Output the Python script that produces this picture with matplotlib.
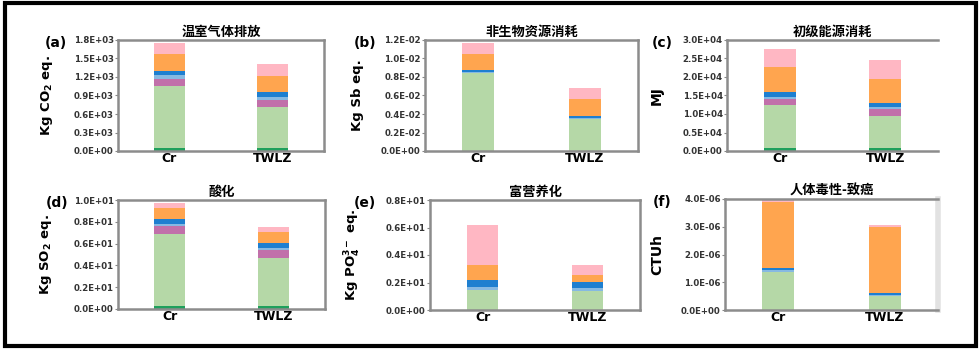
import matplotlib.pyplot as plt
from matplotlib.patches import Rectangle

plt.rcParams["font.family"] = ["Noto Sans CJK SC", "DejaVu Sans"]

# ==========================================================
# Data
# ==========================================================

SCENARIOS = ["Cr", "TWLZ"]

LAYER_COLORS = ["#1fa05c", "#b5d8a7", "#c170aa", "#86b9e2", "#1e7fd0", "#ffa54f", "#ffb7c3"]

TITLES = ["温室气体排放", "非生物资源消耗", "初级能源消耗", "酸化", "富营养化", "人体毒性-致癌"]
PANELS = ["(a)", "(b)", "(c)", "(d)", "(e)", "(f)"]
YLABELS = ["Kg CO$_\\mathbf{2}$ eq.", "Kg Sb eq.", "MJ", "Kg SO$_\\mathbf{2}$ eq.",
           "Kg PO$_\\mathbf{4}^{\\mathbf{3-}}$ eq.", "CTUh"]

# stacked segment heights, bottom to top, [Cr, TWLZ]
gwp = [[50, 50], [1005, 658], [110, 118], [65, 54], [70, 81], [265, 259], [180, 184]]
adp = [[0.00005, 0.00005], [0.00835, 0.00341], [0, 0], [0.00011, 0.00011],
       [0.00025, 0.00025], [0.00173, 0.0018], [0.00115, 0.00116]]
ped = [[900, 900], [11530, 8640], [1705, 1730], [460, 540], [1270, 1240], [6755, 6410], [4866, 5140]]
ap = [[0.30, 0.30], [6.56, 4.36], [0.76, 0.74], [0.21, 0.18], [0.46, 0.51], [1.01, 1.01], [0.45, 0.43]]
ep = [[0, 0], [1.45, 1.40], [0, 0], [0.24, 0.20], [0.49, 0.41], [1.08, 0.53], [2.90, 0.75]]
htc = [[0, 0], [1.38e-6, 0.52e-6], [0, 0], [0.05e-6, 0.03e-6], [0.08e-6, 0.06e-6],
       [2.39e-6, 2.37e-6], [0.06e-6, 0.08e-6]]

DATA = [gwp, adp, ped, ap, ep, htc]

YTICKS = [
    [0, 300, 600, 900, 1200, 1500, 1800],
    [0, 0.002, 0.004, 0.006, 0.008, 0.010, 0.012],
    [0, 5000, 10000, 15000, 20000, 25000, 30000],
    [0, 2, 4, 6, 8, 10],
    [0, 2, 4, 6, 8],
    [0, 1e-6, 2e-6, 3e-6, 4e-6],
]
YTICKLABELS = [
    ["0.0E+00", "0.3E+03", "0.6E+03", "0.9E+03", "1.2E+03", "1.5E+03", "1.8E+03"],
    ["0.0E+00", "0.2E-02", "0.4E-02", "0.6E-02", "0.8E-02", "1.0E-02", "1.2E-02"],
    ["0.0E+00", "0.5E+04", "1.0E+04", "1.5E+04", "2.0E+04", "2.5E+04", "3.0E+04"],
    ["0.0E+00", "0.2E+01", "0.4E+01", "0.6E+01", "0.8E+01", "1.0E+01"],
    ["0.0E+00", "0.2E+01", "0.4E+01", "0.6E+01", "0.8E+01"],
    ["0.0E+00", "1.0E-06", "2.0E-06", "3.0E-06", "4.0E-06"],
]

# ==========================================================
# Layout (pixel boxes: left, right, top, bottom)
# ==========================================================

W, H = 980, 352
BOXES = [(118, 324, 40, 151), (425, 638, 40, 151), (727, 938, 40, 151),
         (118, 325, 200, 309), (430, 640, 200, 310), (725, 938, 199, 310)]
LABEL_X = [55, 364, 664, 54, 363, 664]
LABEL_SIZE = [9.5, 9.5, 10, 9.5, 9.5, 10]
PANEL_X = [56, 365, 662, 57, 365, 662]

fig = plt.figure(figsize=(W / 100, H / 100), dpi=100)

for i, data in enumerate(DATA):
    l, r, t, b = BOXES[i]
    ax = fig.add_axes([l / W, 1 - b / H, (r - l) / W, (b - t) / H])

    bottom = [0, 0]
    for k, seg in enumerate(data):
        ax.bar([0, 1], seg, width=0.3, bottom=bottom, color=LAYER_COLORS[k], linewidth=0)
        bottom = [bottom[0] + seg[0], bottom[1] + seg[1]]

    ax.set_xlim(-0.5, 1.5)
    ax.set_ylim(0, YTICKS[i][-1])
    ax.set_xticks([0, 1])
    ax.set_xticklabels(SCENARIOS, fontsize=9, fontweight="bold", family="DejaVu Sans")
    ax.set_yticks(YTICKS[i])
    ax.set_yticklabels(YTICKLABELS[i], fontsize=6.2, fontweight="bold", color="#333333",
                       family="DejaVu Sans")
    ax.tick_params(axis="x", length=0, pad=1)
    ax.tick_params(axis="y", length=2, width=0.8, color="#888888", pad=1)

    for side in ax.spines.values():
        side.set_color("#8c8c8c")
        side.set_linewidth(1.8)
    if i == 2:
        ax.spines["right"].set_visible(False)
    if i == 5:
        ax.spines["right"].set_color("#e2e2e2")
        ax.spines["right"].set_linewidth(4)

    ax.set_title(TITLES[i], fontsize=9.5, fontweight="bold", pad=3)
    ax.set_ylabel(YLABELS[i], fontsize=LABEL_SIZE[i], fontweight="bold", family="DejaVu Sans")
    ax.yaxis.set_label_coords((LABEL_X[i] - l) / (r - l), 0.5)

    fig.text(PANEL_X[i] / W, 1 - (t + 3) / H, PANELS[i], fontsize=10, fontweight="bold",
             ha="center", va="center", family="DejaVu Sans")

# outer black frame
fig.patches.append(Rectangle((5 / W, 1 - 346 / H), 971 / W, 343 / H, transform=fig.transFigure,
                             fill=False, edgecolor="black", linewidth=3))

fig.savefig("out.png", dpi=100)
